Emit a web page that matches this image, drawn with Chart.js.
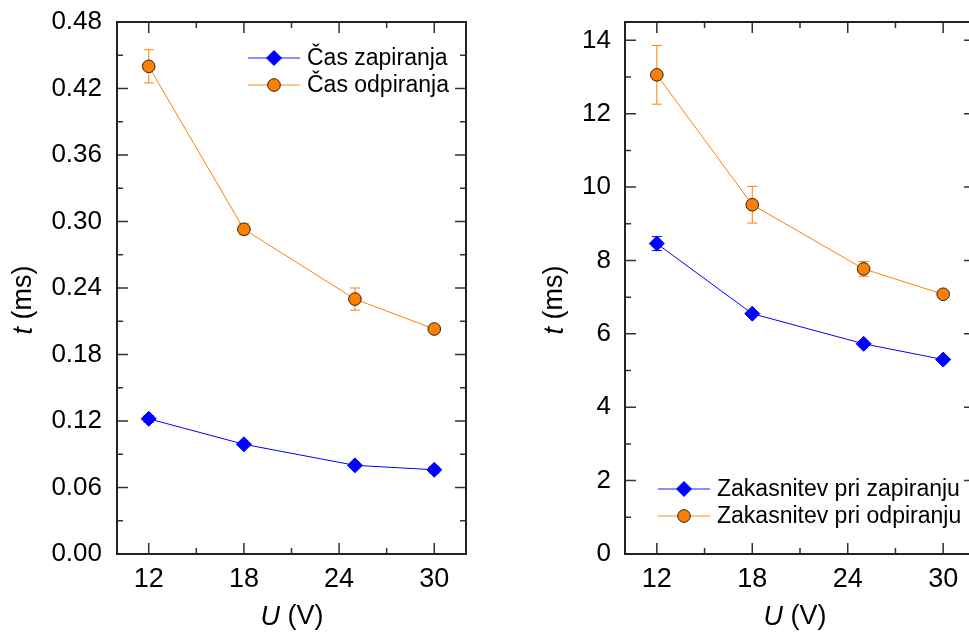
<!DOCTYPE html>
<html>
<head>
<meta charset="utf-8">
<script src="https://cdn.jsdelivr.net/npm/chart.js@4/dist/chart.umd.min.js"></script>
<style>
    html, body { margin: 0; padding: 0; background: #fff; overflow: hidden; }
    body { width: 969px; height: 640px; position: relative; }
    .panel { position: absolute; top: 0; }
    #left-panel { left: 0; width: 485px; height: 640px; }
    #right-panel { left: 485px; width: 500px; height: 640px; }
</style>
</head>
<body>
<div class="panel" id="left-panel"><canvas id="chart-left"></canvas></div>
<div class="panel" id="right-panel"><canvas id="chart-right"></canvas></div>
<script>
// Measured values (U in V, t in ms)
const voltages = [12, 18, 25, 30];
const xTickValues = [12, 18, 24, 30];

// Left panel: closing / opening time
const closingTime = [0.122, 0.099, 0.080, 0.076];
const closingTimeErr = [0.003, 0.002, 0.002, 0.003];
const openingTime = [0.440, 0.293, 0.230, 0.203];
const openingTimeErr = [0.015, 0.005, 0.010, 0.003];
const leftYTicks = [0, 0.06, 0.12, 0.18, 0.24, 0.30, 0.36, 0.42, 0.48];

// Right panel: delays
const closingDelay = [8.46, 6.55, 5.73, 5.30];
const closingDelayErr = [0.19, 0.05, 0.05, 0.05];
const openingDelay = [13.06, 9.52, 7.77, 7.08];
const openingDelayErr = [0.80, 0.50, 0.20, 0.05];
const rightYTicks = [0, 2, 4, 6, 8, 10, 12, 14];

const labels = {
    left: ['Čas zapiranja', 'Čas odpiranja'],
    right: ['Zakasnitev pri zapiranju', 'Zakasnitev pri odpiranju']
};

const BLUE = '#0000ff';
const ORANGE = '#ff8000';
const FONT = "'Liberation Sans', Arial, sans-serif";

function toPoints(xs, ys) {
    return xs.map((x, i) => ({ x: x, y: ys[i] }));
}

function blueSeries(label, values, errs) {
    return {
        label: label,
        data: toPoints(voltages, values),
        errors: errs,
        showLine: true,
        borderColor: BLUE,
        backgroundColor: BLUE,
        borderWidth: 1,
        pointStyle: 'rectRot',
        pointRadius: 7.5,
        pointBorderColor: BLUE,
        pointBackgroundColor: BLUE,
        pointBorderWidth: 1,
        tension: 0
    };
}

function orangeSeries(label, values, errs) {
    return {
        label: label,
        data: toPoints(voltages, values),
        errors: errs,
        showLine: true,
        borderColor: ORANGE,
        backgroundColor: ORANGE,
        borderWidth: 1,
        pointStyle: 'circle',
        pointRadius: 6.3,
        pointBorderColor: '#222',
        pointBackgroundColor: ORANGE,
        pointBorderWidth: 1,
        tension: 0
    };
}

// Error bars, frame with inward ticks, axis titles and inline legend
const decorPlugin = {
    id: 'decor',
    beforeDatasetsDraw(chart) {
        const ctx = chart.ctx;
        const yScale = chart.scales.y;
        ctx.save();
        chart.data.datasets.forEach((ds, i) => {
            const meta = chart.getDatasetMeta(i);
            ctx.strokeStyle = ds.borderColor;
            ctx.lineWidth = 1;
            meta.data.forEach((pt, j) => {
                const err = ds.errors[j];
                if (!err) return;
                const top = yScale.getPixelForValue(ds.data[j].y + err);
                const bot = yScale.getPixelForValue(ds.data[j].y - err);
                ctx.beginPath();
                ctx.moveTo(pt.x, top); ctx.lineTo(pt.x, bot);
                ctx.moveTo(pt.x - 5, top); ctx.lineTo(pt.x + 5, top);
                ctx.moveTo(pt.x - 5, bot); ctx.lineTo(pt.x + 5, bot);
                ctx.stroke();
            });
        });
        ctx.restore();
    },
    afterDatasetsDraw(chart, args, opts) {
        const ctx = chart.ctx;
        const area = chart.chartArea;
        const xs = chart.scales.x;
        const ys = chart.scales.y;
        ctx.save();

        // inward ticks
        ctx.strokeStyle = '#333';
        ctx.lineWidth = 1.5;
        const tick = (v, len, isX) => {
            ctx.beginPath();
            if (isX) {
                const p = xs.getPixelForValue(v);
                ctx.moveTo(p, area.bottom); ctx.lineTo(p, area.bottom - len);
                ctx.moveTo(p, area.top); ctx.lineTo(p, area.top + len);
            } else {
                const p = ys.getPixelForValue(v);
                ctx.moveTo(area.left, p); ctx.lineTo(area.left + len, p);
                ctx.moveTo(area.right, p); ctx.lineTo(area.right - len, p);
            }
            ctx.stroke();
        };
        xTickValues.forEach(v => tick(v, 11, true));
        for (let i = 0; i < xTickValues.length - 1; i++) {
            tick((xTickValues[i] + xTickValues[i + 1]) / 2, 6, true);
        }
        opts.yTicks.forEach(v => tick(v, 11, false));
        for (let i = 0; i < opts.yTicks.length - 1; i++) {
            tick((opts.yTicks[i] + opts.yTicks[i + 1]) / 2, 6, false);
        }

        // frame
        ctx.strokeStyle = '#222';
        ctx.lineWidth = 2;
        ctx.strokeRect(area.left, area.top, area.right - area.left, area.bottom - area.top);

        // axis titles
        ctx.fillStyle = '#000';
        ctx.textBaseline = 'middle';
        const drawTitle = (italic, rest, x, y, rot) => {
            ctx.save();
            ctx.translate(x, y);
            ctx.rotate(rot);
            ctx.font = 'italic 27px ' + FONT;
            const w1 = ctx.measureText(italic).width;
            ctx.font = '27px ' + FONT;
            const w2 = ctx.measureText(rest).width;
            let start = -(w1 + w2) / 2;
            ctx.textAlign = 'left';
            ctx.font = 'italic 27px ' + FONT;
            ctx.fillText(italic, start, 0);
            ctx.font = '27px ' + FONT;
            ctx.fillText(rest, start + w1, 0);
            ctx.restore();
        };
        drawTitle('t', ' (ms)', opts.yTitle.x, opts.yTitle.y, -Math.PI / 2);
        drawTitle('U', ' (V)', opts.xTitle.x, opts.xTitle.y, 0);

        // legend
        const lg = opts.legend;
        chart.data.datasets.forEach((ds, i) => {
            const y = lg.y + i * lg.rowGap;
            ctx.strokeStyle = ds.borderColor;
            ctx.globalAlpha = 0.6;
            ctx.lineWidth = 1.5;
            ctx.beginPath();
            ctx.moveTo(lg.x1, y); ctx.lineTo(lg.x2, y);
            ctx.stroke();
            ctx.globalAlpha = 1;
            ctx.fillStyle = ds.pointBackgroundColor;
            ctx.strokeStyle = ds.pointBorderColor;
            ctx.lineWidth = ds.pointBorderWidth;
            Chart.helpers.drawPoint(ctx, {
                pointStyle: ds.pointStyle, radius: ds.pointRadius, rotation: 0, borderWidth: ds.pointBorderWidth
            }, (lg.x1 + lg.x2) / 2, y);
            ctx.fillStyle = '#000';
            ctx.font = '23px ' + FONT;
            ctx.textAlign = 'left';
            ctx.textBaseline = 'middle';
            ctx.fillText(ds.label, lg.x2 + 7, y + 1);
        });
        ctx.restore();
    }
};

function buildOptions(cfg) {
    return {
        responsive: true,
        maintainAspectRatio: false,
        animation: false,
        layout: { padding: { top: 22, right: cfg.padRight, left: 0, bottom: 0 } },
        plugins: {
            legend: { display: false },
            tooltip: { enabled: false },
            decor: {
                yTicks: cfg.yTicks,
                yTitle: cfg.yTitle,
                xTitle: cfg.xTitle,
                legend: cfg.legend
            }
        },
        scales: {
            x: {
                type: 'linear',
                min: 10,
                max: 32,
                afterBuildTicks: scale => { scale.ticks = xTickValues.map(v => ({ value: v })); },
                afterFit: scale => {
                    scale.height = 86;
                    scale.paddingLeft = 0;
                    scale.paddingRight = 0;
                },
                grid: { display: false, drawTicks: false },
                border: { display: false },
                ticks: { color: '#000', padding: 9, font: { family: FONT, size: 27 } }
            },
            y: {
                type: 'linear',
                min: 0,
                max: cfg.yMax,
                afterBuildTicks: scale => { scale.ticks = cfg.yTicks.map(v => ({ value: v })); },
                afterFit: scale => {
                    scale.width = cfg.yWidth;
                    scale.paddingTop = 0;
                    scale.paddingBottom = 0;
                },
                grid: { display: false, drawTicks: false },
                border: { display: false },
                ticks: {
                    color: '#000',
                    padding: cfg.yPad,
                    font: { family: FONT, size: 26 },
                    callback: cfg.yFormat
                }
            }
        }
    };
}

new Chart(document.getElementById('chart-left'), {
    type: 'scatter',
    data: {
        datasets: [
            blueSeries(labels.left[0], closingTime, closingTimeErr),
            orangeSeries(labels.left[1], openingTime, openingTimeErr)
        ]
    },
    options: buildOptions({
        padRight: 19,
        yWidth: 117,
        yPad: 15,
        yMax: 0.48,
        yTicks: leftYTicks,
        yFormat: v => v.toFixed(2),
        yTitle: { x: 24, y: 300 },
        xTitle: { x: 292, y: 617 },
        legend: { x1: 248, x2: 300, y: 58, rowGap: 27 }
    }),
    plugins: [decorPlugin]
});

new Chart(document.getElementById('chart-right'), {
    type: 'scatter',
    data: {
        datasets: [
            blueSeries(labels.right[0], closingDelay, closingDelayErr),
            orangeSeries(labels.right[1], openingDelay, openingDelayErr)
        ]
    },
    options: buildOptions({
        padRight: 10,
        yWidth: 140,
        yPad: 14,
        yMax: 14.5,
        yTicks: rightYTicks,
        yFormat: v => String(v),
        yTitle: { x: 70, y: 300 },
        xTitle: { x: 310, y: 617 },
        legend: { x1: 173, x2: 225, y: 489, rowGap: 27 }
    }),
    plugins: [decorPlugin]
});
</script>
</body>
</html>
